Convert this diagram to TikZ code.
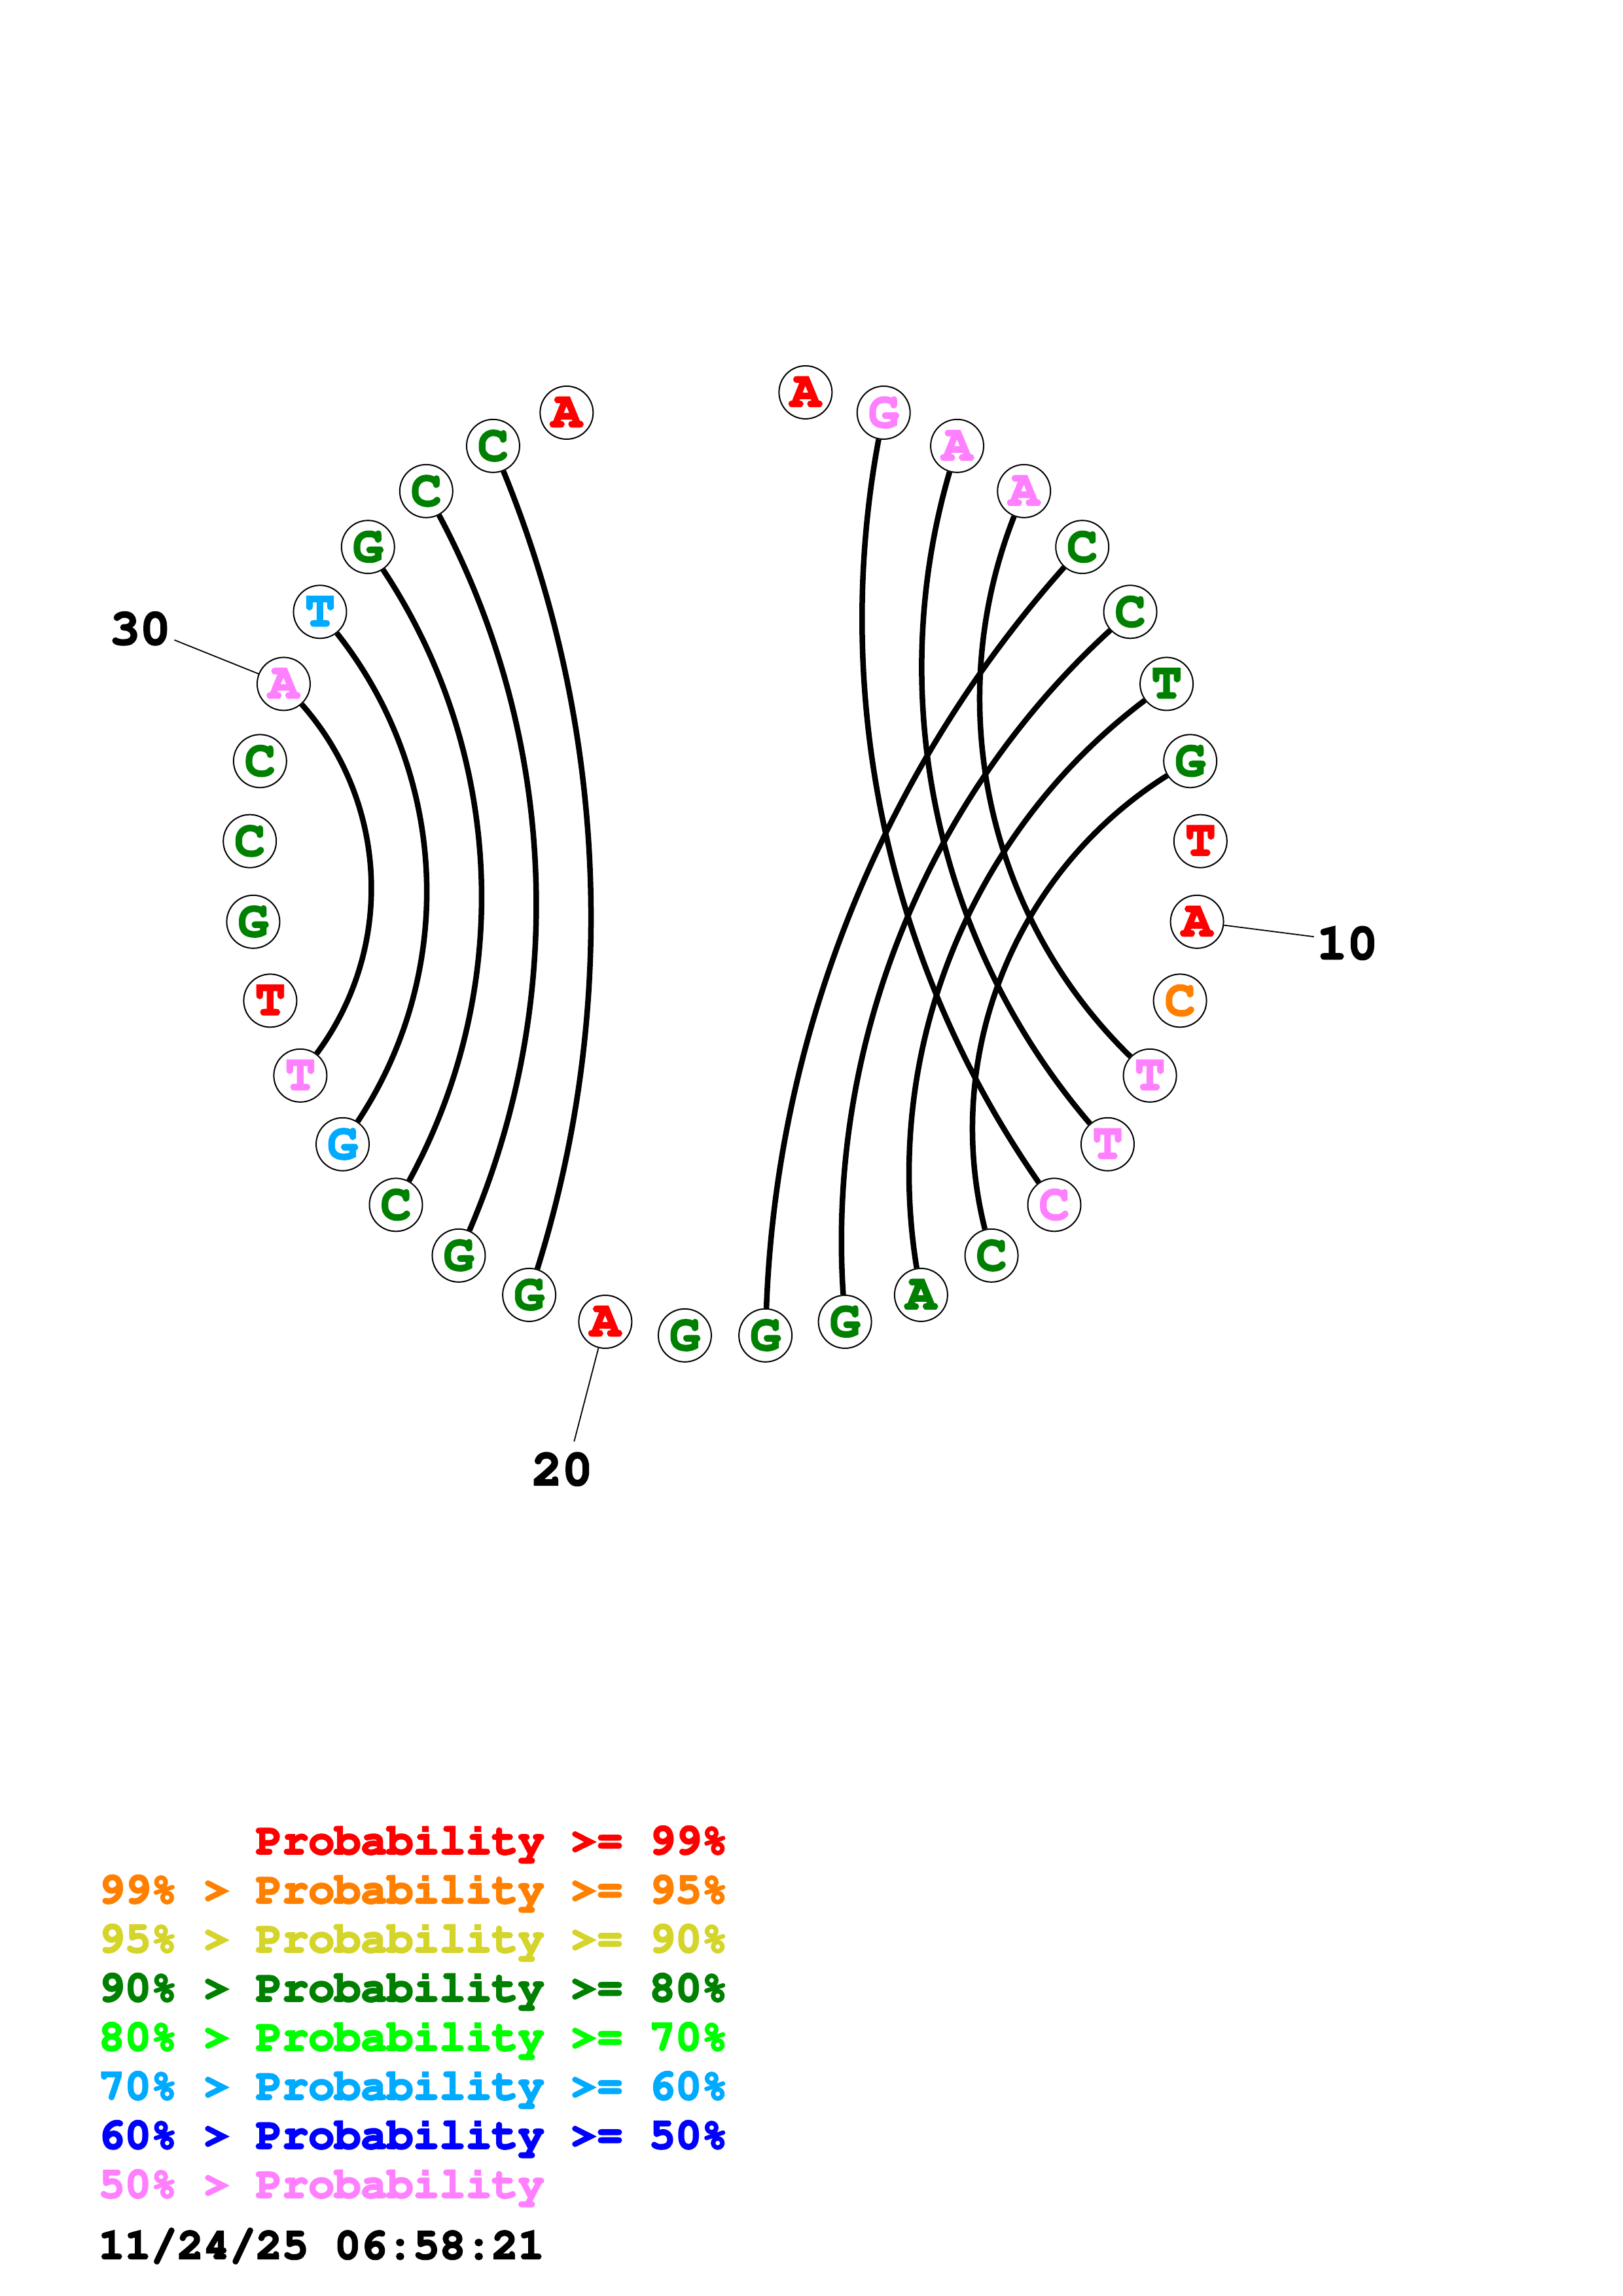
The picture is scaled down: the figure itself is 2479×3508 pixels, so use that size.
\documentclass[tikz,border=0pt]{standalone}
\usepackage[T1]{fontenc}
\usepackage{courier}
\newcommand\inkbold[1]{\special{pdf:literal direct 2 Tr 0.7 w}#1\special{pdf:literal direct 0 Tr}}
\definecolor{pr99}{RGB}{255,0,0}
\definecolor{pr95}{RGB}{255,128,0}
\definecolor{pr90}{RGB}{212,212,42}
\definecolor{pr80}{RGB}{0,128,0}
\definecolor{pr70}{RGB}{0,255,0}
\definecolor{pr60}{RGB}{0,170,255}
\definecolor{pr50}{RGB}{0,0,255}
\definecolor{prlow}{RGB}{255,128,255}
\tikzset{
  nuc/.style={circle, draw, fill=white, line width=0.2mm, minimum size=8.1mm, inner sep=0pt,
    font=\ttfamily\bfseries\fontsize{22pt}{22pt}\selectfont},
  pair/.style={line width=0.85mm},
  leader/.style={line width=0.18mm},
  numlabel/.style={inner sep=0pt, font=\ttfamily\bfseries\fontsize{22pt}{22pt}\selectfont},
  keyline/.style={anchor=base west, inner sep=0pt, font=\ttfamily\bfseries\fontsize{19pt}{19pt}\selectfont}
}
\begin{document}
\begin{tikzpicture}[x=0.1mm, y=0.1mm]
    \useasboundingbox (0,0) rectangle (2479,3508);
    % Circle of bases
    \begin{scope}[shift={(1108,2192)}]
        \node[nuc, text=pr99] (n1) at (80.27:727) {\inkbold{A}};
        \node[nuc, text=prlow] (n2) at (70.54:727) {\inkbold{G}};
        \node[nuc, text=prlow] (n3) at (60.81:727) {\inkbold{A}};
        \node[nuc, text=prlow] (n4) at (51.08:727) {\inkbold{A}};
        \node[nuc, text=pr80] (n5) at (41.35:727) {\inkbold{C}};
        \node[nuc, text=pr80] (n6) at (31.62:727) {\inkbold{C}};
        \node[nuc, text=pr80] (n7) at (21.89:727) {\inkbold{T}};
        \node[nuc, text=pr80] (n8) at (12.16:727) {\inkbold{G}};
        \node[nuc, text=pr99] (n9) at (2.43:727) {\inkbold{T}};
        \node[nuc, text=pr99] (n10) at (-7.30:727) {\inkbold{A}};
        \node[nuc, text=pr95] (n11) at (-17.03:727) {\inkbold{C}};
        \node[nuc, text=prlow] (n12) at (-26.76:727) {\inkbold{T}};
        \node[nuc, text=prlow] (n13) at (-36.49:727) {\inkbold{T}};
        \node[nuc, text=prlow] (n14) at (-46.22:727) {\inkbold{C}};
        \node[nuc, text=pr80] (n15) at (-55.95:727) {\inkbold{C}};
        \node[nuc, text=pr80] (n16) at (-65.68:727) {\inkbold{A}};
        \node[nuc, text=pr80] (n17) at (-75.41:727) {\inkbold{G}};
        \node[nuc, text=pr80] (n18) at (-85.14:727) {\inkbold{G}};
        \node[nuc, text=pr80] (n19) at (-94.86:727) {\inkbold{G}};
        \node[nuc, text=pr99] (n20) at (-104.59:727) {\inkbold{A}};
        \node[nuc, text=pr80] (n21) at (-114.32:727) {\inkbold{G}};
        \node[nuc, text=pr80] (n22) at (-124.05:727) {\inkbold{G}};
        \node[nuc, text=pr80] (n23) at (-133.78:727) {\inkbold{C}};
        \node[nuc, text=pr60] (n24) at (-143.51:727) {\inkbold{G}};
        \node[nuc, text=prlow] (n25) at (-153.24:727) {\inkbold{T}};
        \node[nuc, text=pr99] (n26) at (-162.97:727) {\inkbold{T}};
        \node[nuc, text=pr80] (n27) at (-172.70:727) {\inkbold{G}};
        \node[nuc, text=pr80] (n28) at (177.57:727) {\inkbold{C}};
        \node[nuc, text=pr80] (n29) at (167.84:727) {\inkbold{C}};
        \node[nuc, text=prlow] (n30) at (158.11:727) {\inkbold{A}};
        \node[nuc, text=pr60] (n31) at (148.38:727) {\inkbold{T}};
        \node[nuc, text=pr80] (n32) at (138.65:727) {\inkbold{G}};
        \node[nuc, text=pr80] (n33) at (128.92:727) {\inkbold{C}};
        \node[nuc, text=pr80] (n34) at (119.19:727) {\inkbold{C}};
        \node[nuc, text=pr99] (n35) at (109.46:727) {\inkbold{A}};
        % Pairs
        \draw[pair] (n2) to[bend right=22.72, looseness=.886] (n14);
        \draw[pair] (n3) to[bend right=28.42, looseness=.906] (n13);
        \draw[pair] (n4) to[bend right=33.62, looseness=.929] (n12);
        \draw[pair] (n5) to[bend right=19.82, looseness=.877] (n18);
        \draw[pair] (n6) to[bend right=25.62, looseness=.896] (n17);
        \draw[pair] (n7) to[bend right=31.12, looseness=.918] (n16);
        \draw[pair] (n8) to[bend right=35.96, looseness=.941] (n15);
        \draw[pair] (n21) to[bend right=19.82, looseness=.877] (n34);
        \draw[pair] (n22) to[bend right=25.62, looseness=.896] (n33);
        \draw[pair] (n23) to[bend right=31.12, looseness=.918] (n32);
        \draw[pair] (n24) to[bend right=35.96, looseness=.941] (n31);
        \draw[pair] (n25) to[bend right=39.1, looseness=.959] (n30);
        % Numbering
        \coordinate (t10) at (-7.30:907);
        \coordinate (t20) at (-104.59:916);
        \coordinate (t30) at (158.11:907);
        \draw[leader] (n10) -- (t10);
        \draw[leader] (n20) -- (t20);
        \draw[leader] (n30) -- (t30);
        \node[numlabel] (l10) at (-7.52:959) {\inkbold{10}};
        \node[numlabel] (l20) at (-105.0:962) {\inkbold{20}};
        \node[numlabel] (l30) at (158.33:962) {\inkbold{30}};
    \end{scope}
    % Legend
    \node[keyline, text=pr99] (key99) at (150,675.4) {\inkbold{\phantom{99\% > }Probability >= 99\%}};
    \node[keyline, text=pr95] (key95) at (150,600.4) {\inkbold{99\% > Probability >= 95\%}};
    \node[keyline, text=pr90] (key90) at (150,525.4) {\inkbold{95\% > Probability >= 90\%}};
    \node[keyline, text=pr80] (key80) at (150,450.4) {\inkbold{90\% > Probability >= 80\%}};
    \node[keyline, text=pr70] (key70) at (150,375.4) {\inkbold{80\% > Probability >= 70\%}};
    \node[keyline, text=pr60] (key60) at (150,300.4) {\inkbold{70\% > Probability >= 60\%}};
    \node[keyline, text=pr50] (key50) at (150,225.4) {\inkbold{60\% > Probability >= 50\%}};
    \node[keyline, text=prlow] (keylow) at (150,150.4) {\inkbold{50\% > Probability}};
    \node[keyline] (stamp) at (150,57) {\inkbold{11/24/25 06:58:21}};
\end{tikzpicture}
\end{document}
